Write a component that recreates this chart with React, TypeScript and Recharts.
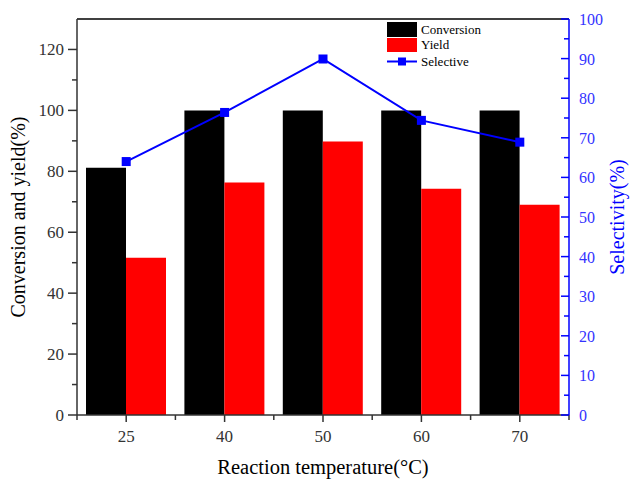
import React from 'react';
import { ComposedChart, Bar, Line, XAxis, YAxis, ReferenceLine } from 'recharts';

const temperatures = ['25', '40', '50', '60', '70'];
const conversion = [81.2, 100, 100, 100, 100];
const yieldValues = [51.6, 76.3, 89.8, 74.3, 69.0];
const selectivity = [64.0, 76.4, 89.9, 74.4, 68.9];

const leftTicks = [0, 10, 20, 30, 40, 50, 60, 70, 80, 90, 100, 110, 120, 130];
const rightTicks = [0, 5, 10, 15, 20, 25, 30, 35, 40, 45, 50, 55, 60, 65, 70, 75, 80, 85, 90, 95, 100];

const FONT = '"Liberation Serif", "Times New Roman", serif';
const BLUE = '#0000ff';

const data = temperatures.map((t, i) => ({
  temp: t,
  conversion: conversion[i],
  yield: yieldValues[i],
  selective: selectivity[i],
}));

function LeftTick(props: any) {
  const { x, y, payload } = props;
  const major = payload.value % 20 === 0;
  if (payload.value === 130) return <g />;
  return (
    <g>
      <line x1={x} x2={x - (major ? 9 : 5)} y1={y} y2={y} stroke="#333" strokeWidth={1.5} />
      {major && (
        <text x={x - 13} y={y} dy={6} textAnchor="end" fontFamily={FONT} style={{ fontFamily: FONT, fontSize: 17 }} fill="#333">
          {payload.value}
        </text>
      )}
    </g>
  );
}

function RightTick(props: any) {
  const { x, y, payload } = props;
  const major = payload.value % 10 === 0;
  return (
    <g>
      <line x1={x} x2={x - (major ? 8 : 5)} y1={y} y2={y} stroke={BLUE} strokeWidth={1.5} />
      {major && (
        <text x={x + 10} y={y} dy={6} textAnchor="start" fontFamily={FONT} style={{ fontFamily: FONT, fontSize: 16 }} fill="#3333ff">
          {payload.value}
        </text>
      )}
    </g>
  );
}

function BottomTick(props: any) {
  const { x, y, payload, index } = props;
  const half = payload.offset ?? 49.2;
  return (
    <g>
      <line x1={x} x2={x} y1={y} y2={y + 7} stroke="#333" strokeWidth={1.5} />
      <line x1={x + half} x2={x + half} y1={y} y2={y + 5} stroke="#333" strokeWidth={1.5} />
      {index === 0 && <line x1={x - half} x2={x - half} y1={y} y2={y + 5} stroke="#333" strokeWidth={1.5} />}
      <text x={x} y={y + 27} textAnchor="middle" fontFamily={FONT} style={{ fontFamily: FONT, fontSize: 17 }} fill="#333">
        {payload.value}
      </text>
    </g>
  );
}

function SquareDot(props: any) {
  const { cx, cy } = props;
  return <rect x={cx - 4.5} y={cy - 4.5} width={9} height={9} fill={BLUE} />;
}

function LegendBox() {
  const row = { display: 'flex', alignItems: 'center', height: 15, fontFamily: FONT, fontSize: 13, color: '#000' } as const;
  return (
    <div style={{ position: 'absolute', top: 22, left: 387, lineHeight: '15px' }}>
      <div style={row}>
        <span style={{ display: 'inline-block', width: 30, height: 15, background: '#000', marginRight: 4 }} />
        Conversion
      </div>
      <div style={row}>
        <span style={{ display: 'inline-block', width: 30, height: 14, background: '#ff0000', marginRight: 4 }} />
        Yield
      </div>
      <div style={{ ...row, marginTop: 2 }}>
        <svg width={30} height={15} style={{ marginRight: 4 }}>
          <line x1={0} x2={30} y1={7.5} y2={7.5} stroke={BLUE} strokeWidth={2} />
          <rect x={11} y={3.5} width={8} height={8} fill={BLUE} />
        </svg>
        Selective
      </div>
    </div>
  );
}

export default function App() {
  return (
    <div style={{ position: 'absolute', left: 0, top: 0, width: 631, height: 479, background: '#fff' }}>
      <ComposedChart
        width={631}
        height={479}
        data={data}
        margin={{ top: 19, right: 0, bottom: 0, left: 0 }}
        barCategoryGap={9}
        barGap={0}
      >
        <XAxis
          dataKey="temp"
          height={64}
          stroke="#333"
          strokeWidth={1.5}
          tickLine={false}
          tickSize={0}
          tickMargin={0}
          tick={<BottomTick />}
          interval={0}
          label={{ value: 'Reaction temperature(°C)', position: 'insideBottom', offset: 5, fontFamily: FONT, fontSize: 20.5, fill: '#000' }}
        />
        <YAxis
          yAxisId="left"
          width={77}
          domain={[0, 130]}
          ticks={leftTicks}
          interval={0}
          stroke="#333"
          strokeWidth={1.5}
          tickLine={false}
          tickSize={0}
          tickMargin={0}
          tick={<LeftTick />}
          label={{ value: 'Conversion and yield(%)', angle: -90, position: 'insideLeft', offset: 18, style: { textAnchor: 'middle' }, fontFamily: FONT, fontSize: 20, fill: '#000' }}
        />
        <YAxis
          yAxisId="right"
          orientation="right"
          width={62}
          domain={[0, 100]}
          ticks={rightTicks}
          interval={0}
          stroke={BLUE}
          strokeWidth={1.5}
          tickLine={false}
          tickSize={0}
          tickMargin={0}
          tick={<RightTick />}
          label={{ value: 'Selectivity(%)', angle: -90, position: 'insideRight', offset: 14, style: { textAnchor: 'middle' }, fontFamily: FONT, fontSize: 20, fill: BLUE }}
        />
        <ReferenceLine yAxisId="left" y={130} stroke="#000" strokeWidth={1.5} />
        <Bar yAxisId="left" dataKey="conversion" name="Conversion" fill="#000" isAnimationActive={false} />
        <Bar yAxisId="left" dataKey="yield" name="Yield" fill="#ff0000" isAnimationActive={false} />
        <Line
          yAxisId="right"
          dataKey="selective"
          name="Selective"
          type="linear"
          stroke={BLUE}
          strokeWidth={2}
          dot={<SquareDot />}
          activeDot={false}
          isAnimationActive={false}
        />
      </ComposedChart>
      <LegendBox />
    </div>
  );
}
